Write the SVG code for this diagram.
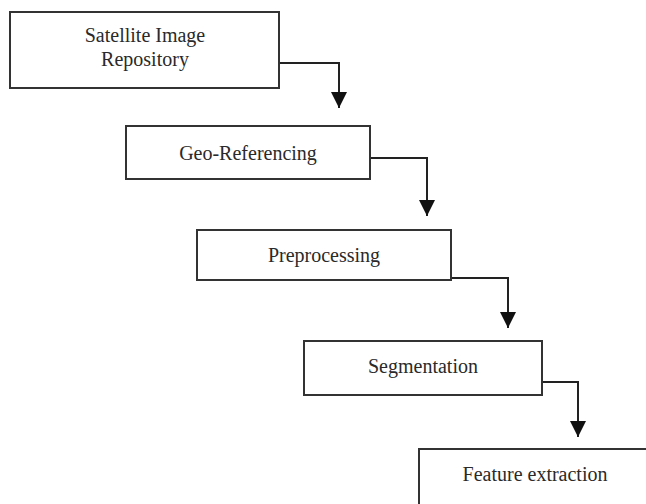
<svg xmlns="http://www.w3.org/2000/svg" width="646" height="504" viewBox="0 0 646 504">
  <defs>
    <marker id="arrow" markerUnits="userSpaceOnUse" markerWidth="16" markerHeight="18" viewBox="0 0 16 18" refX="16" refY="8" orient="auto">
      <polygon points="0,0 16,8 0,16" fill="#111"/>
    </marker>
  </defs>
  <style>
    .box { fill: #ffffff; stroke: #333333; stroke-width: 2; }
    .lbl { font-family: "Liberation Serif", "Times New Roman", serif; font-size: 20px; fill: #2a2a2a; text-anchor: middle; }
    .conn { fill: none; stroke: #222222; stroke-width: 2; }
  </style>
  <rect x="0" y="0" width="646" height="504" fill="#ffffff"/>
  <g id="connectors">
    <polyline class="conn" points="279,63 339,63 339,108" marker-end="url(#arrow)"/>
    <polyline class="conn" points="370,158 427,158 427,216" marker-end="url(#arrow)"/>
    <polyline class="conn" points="451,278 508,278 508,328" marker-end="url(#arrow)"/>
    <polyline class="conn" points="542,382 578,382 578,437" marker-end="url(#arrow)"/>
  </g>
  <g id="node-satellite">
    <rect class="box" x="10" y="12" width="269" height="76"/>
    <text class="lbl" x="145" y="42">Satellite Image</text>
    <text class="lbl" x="145" y="66">Repository</text>
  </g>
  <g id="node-georef">
    <rect class="box" x="126" y="126" width="244" height="53"/>
    <text class="lbl" x="248" y="160">Geo-Referencing</text>
  </g>
  <g id="node-preprocessing">
    <rect class="box" x="197" y="230" width="254" height="50"/>
    <text class="lbl" x="324" y="262">Preprocessing</text>
  </g>
  <g id="node-segmentation">
    <rect class="box" x="304" y="341" width="238" height="54"/>
    <text class="lbl" x="423" y="373">Segmentation</text>
  </g>
  <g id="node-feature">
    <rect class="box" x="419" y="449" width="240" height="70"/>
    <text class="lbl" x="535" y="481">Feature extraction</text>
  </g>
</svg>
